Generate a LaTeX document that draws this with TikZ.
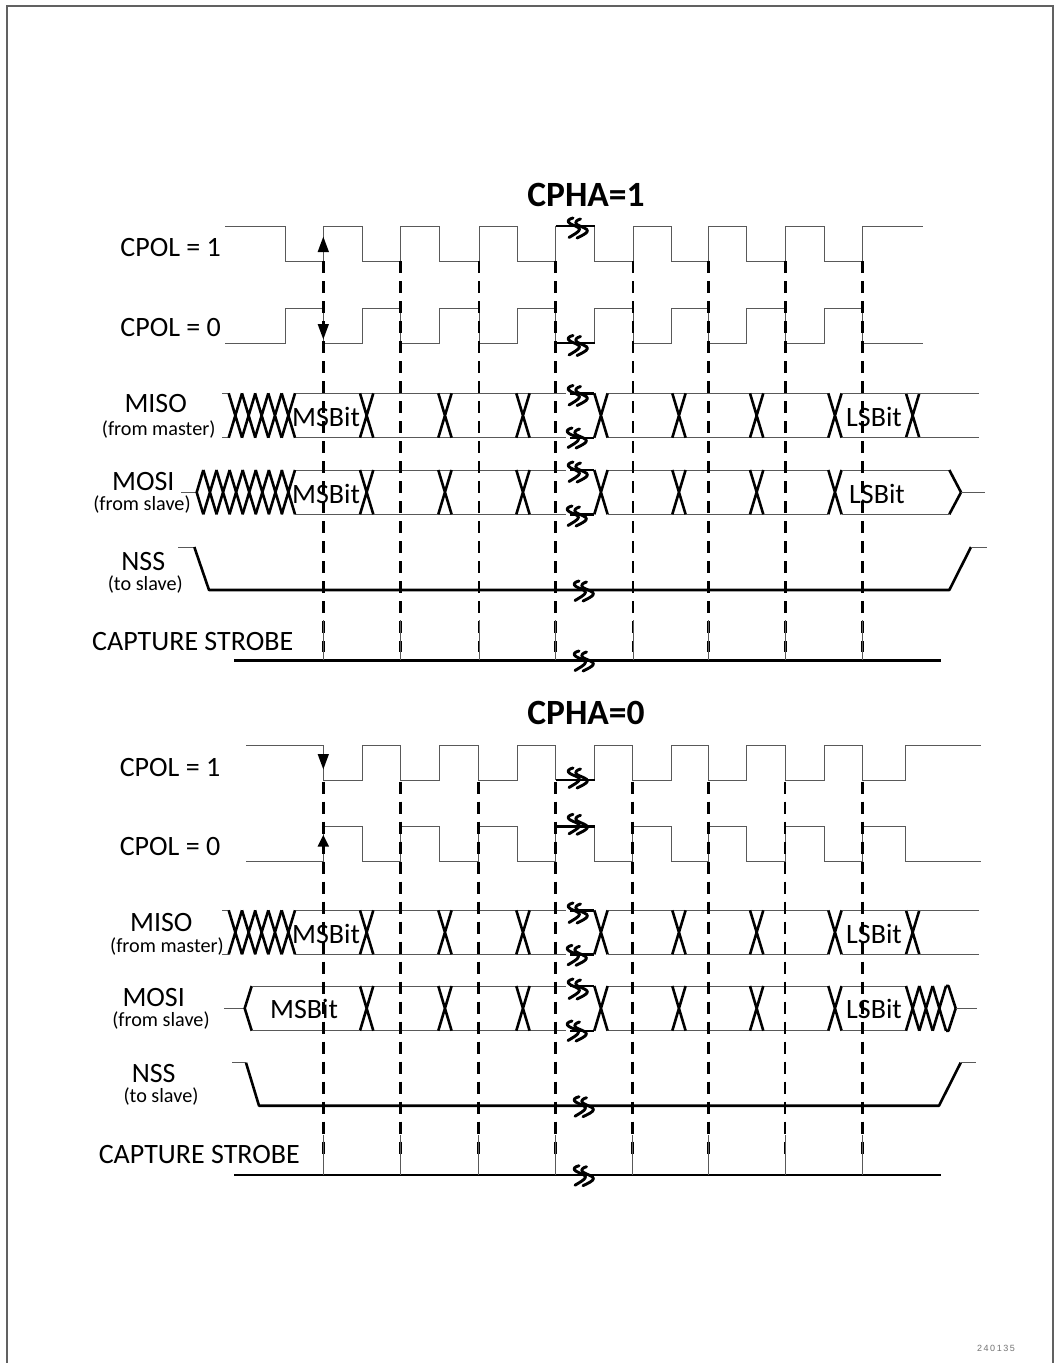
\documentclass[tikz,border=0pt]{standalone}
\usepackage{fontspec}
\setmainfont{Carlito}
\newfontfamily\numfont{Liberation Sans}
\tikzset{
  wave/.style={line width=1pt,draw=black!65},
  thickseg/.style={line width=2.4pt,draw=black},
  busx/.style={line width=2.6pt,draw=black},
  busend/.style={line width=2.6pt,draw=black,line join=round},
  heavy/.style={line width=2.6pt,draw=black,line join=round},
  edgedash/.style={line width=2.5pt,draw=black,dash pattern=on 12pt off 8pt},
  strobeline/.style={line width=1pt,draw=black!65},
  brk/.style={line width=2.9pt,draw=black,line cap=round,line join=round},
  lab/.style={inner sep=0pt,font=\fontsize{28}{28}\selectfont},
  sub/.style={inner sep=0pt,font=\fontsize{20.2}{20}\selectfont},
  ttl/.style={inner sep=0pt,font=\bfseries\fontsize{35.5}{36}\selectfont},
  tip/.style={fill=black,draw=none}
}
% crossing of a bus: left x, top y, bottom y
\newcommand\busX[3]{\draw[busx] (#1,#2)--(#1+13.3,#3) (#1+13.3,#2)--(#1,#3);}
% break mark: centre x, centre y
\newcommand\brkmark[2]{\begin{scope}[shift={(#1,#2)}]
 \draw[brk] (-4,-10) .. controls (-8,-9) and (-11,-7) .. (-7,-4.5) .. controls (-4,-2.5) and (3,-1) .. (2.5,1.5) .. controls (2,4) and (-4,7) .. (-8,9.5);
 \draw[brk] (3.5,-9) .. controls (0,-8) and (-3,-6) .. (0,-3.5) .. controls (3,-1.5) and (11,0.5) .. (10.5,3) .. controls (10,5.5) and (4,8) .. (0,10);
\end{scope}}
\begin{document}
\begin{tikzpicture}[x=1pt,y=-1pt]
\useasboundingbox (0,0) rectangle (1056,1363);
\fill[white] (0,0) rectangle (1056,1363);
% page frame
\draw[line width=1.3pt,draw=black!62] (7,1363)--(7,6)--(1053,6)--(1053,1363);

% ============ CPHA=1 ============
\node[ttl] (t1) at (586,195) {CPHA=1};
% clocks
\draw[wave] (225,226)-|(285.3,261)-|(323.3,226)-|(362.7,261)-|(400.7,226)-|(439.7,261)-|(479,226)-|(517.7,261)-|(555.7,226);
\draw[wave] (594.7,226)--(594.7,261)-|(633,226)-|(671.7,261)-|(708.7,226)-|(746.7,261)-|(785.3,226)-|(824.3,261)-|(862.7,226)--(922.7,226);
\draw[thickseg] (555.7,226)--(594.7,226);
\draw[wave] (225,343)-|(285.3,308)-|(323.3,343)-|(362.7,308)-|(400.7,343)-|(439.7,308)-|(479,343)-|(517.7,308)-|(555.7,343);
\draw[wave] (594.7,343)--(594.7,308)-|(633,343)-|(671.7,308)-|(708.7,343)-|(746.7,308)-|(785.3,343)-|(824.3,308)-|(862.7,343)--(922.7,343);
\draw[thickseg] (555.7,343)--(594.7,343);
% data
\foreach \t/\b in {393.3/437.7,470/514.3}{
 \draw[wave] (295,\t)--(566,\t) (295,\b)--(566,\b);
 \draw[wave] (607.7,\t)--(828.3,\t) (607.7,\b)--(828.3,\b);
 \draw[thickseg] (570,\t)--(594.3,\t) (570,\b)--(594.3,\b);
 \foreach \x in {360,438.3,516.3,594.3,672.3,750,828.3}{\busX{\x}{\t}{\b}}
}
\draw[wave] (222,393.3)--(228.7,393.3) (222,437.7)--(228.7,437.7);
\foreach \x in {228.7,242,255,268.3,281.7}{\busX{\x}{393.3}{437.7}}
\busX{906}{393.3}{437.7}
\draw[wave] (841.7,393.3)--(978.7,393.3) (841.7,437.7)--(978.7,437.7);
\draw[wave] (181,492.3)--(196.7,492.3);
\draw[busend] (203.3,470)--(196.7,492.3)--(203.3,514.3);
\foreach \x in {203.3,216.4,229.5,242.6,255.7,268.8,281.7}{\busX{\x}{470}{514.3}}
\draw[wave] (841.7,470)--(949.3,470) (841.7,514.3)--(949.3,514.3);
\draw[busend] (949.3,470)--(961,492.3)--(949.3,514.3);
\draw[wave] (961,492.3)--(985,492.3);
% NSS and strobe
\draw[wave] (178,547)--(194.3,547);
\draw[heavy] (194.3,547)--(209,590)--(949.3,590)--(971,547);
\draw[wave] (971,547)--(986.7,547);
\draw[heavy] (234.3,660.7)--(941,660.7);
% texts
\node[lab] (a1) at (170.7,248) {CPOL = 1};
\node[lab] (a2) at (170.7,328) {CPOL = 0};
\node[lab] (a3) at (155.7,404) {MISO};
\node[sub] (a4) at (158.7,430) {(from master)};
\node[lab] (a5) at (143.3,482) {MOSI};
\node[sub] (a6) at (142,505) {(from slave)};
\node[lab] (a7) at (143.3,562) {NSS};
\node[sub] (a8) at (145.3,585) {(to slave)};
\node[lab] (a9) at (192.7,641.7) {CAPTURE STROBE};
\node[lab] (a10) at (326,416.7) {MSBit};
\node[lab] (a11) at (326,494.3) {MSBit};
\node[lab] (a12) at (874,416.7) {LSBit};
\node[lab] (a13) at (877,494.3) {LSBit};
% capture edges
\foreach \x in {323.3,400.7,479,555.7,633,708.7,785.3,862.7}{
 \draw[edgedash] (\x,261)--(\x,652);
 \draw[strobeline] (\x,620)--(\x,660);
}
\draw[wave] (323.3,226)--(323.3,261);
\fill[tip] (323.3,236.7)--(329,252)--(317.6,252)--cycle;
\fill[tip] (323.3,339.3)--(329,324)--(317.6,324)--cycle;
% breaks
\foreach \x/\y in {577/228,577/345.5,577/395.5,576/438,577/472,576/516,583/591,583/661}{\brkmark{\x}{\y}}

% ============ CPHA=0 ============
\node[ttl] (t0) at (586,713) {CPHA=0};
\draw[wave] (246.3,745)-|(323.3,780)-|(362.3,745)-|(400.7,780)-|(439,745)-|(478.7,780)-|(517.3,745)-|(555.7,780);
\draw[wave] (594.7,780)--(594.7,745)-|(632.7,780)-|(671,745)-|(708.3,780)-|(746.7,745)-|(785,780)-|(824,745)-|(862.3,780)-|(905.7,745)--(981,745);
\draw[thickseg] (555.7,780)--(594.7,780);
\draw[wave] (246.3,861.3)-|(323.3,826.3)-|(362.3,861.3)-|(400.7,826.3)-|(439,861.3)-|(478.7,826.3)-|(517.3,861.3)-|(555.7,826.3);
\draw[wave] (594.7,826.3)--(594.7,861.3)-|(632.7,826.3)-|(671,861.3)-|(708.3,826.3)-|(746.7,861.3)-|(785,826.3)-|(824,861.3)-|(862.3,826.3)-|(905.7,861.3)--(981,861.3);
\draw[thickseg] (555.7,826.3)--(594.7,826.3);
\foreach \t/\b in {910.3/954.3,986/1030.7}{
 \draw[wave] (295,\t)--(566,\t) (295,\b)--(566,\b);
 \draw[wave] (607.7,\t)--(828.3,\t) (607.7,\b)--(828.3,\b);
 \draw[thickseg] (570,\t)--(594.3,\t) (570,\b)--(594.3,\b);
 \foreach \x in {360,438.3,516.3,594.3,672.3,750,828.3}{\busX{\x}{\t}{\b}}
}
\draw[wave] (222,910.3)--(228.7,910.3) (222,954.3)--(228.7,954.3);
\foreach \x in {228.7,242,255,268.3,281.7}{\busX{\x}{910.3}{954.3}}
\busX{906}{910.3}{954.3}
\draw[wave] (841.7,910.3)--(978.7,910.3) (841.7,954.3)--(978.7,954.3);
\draw[wave] (224,1008.3)--(244.7,1008.3);
\draw[busend] (251.7,986)--(244.7,1008.3)--(251.7,1030.7);
\draw[wave] (251.7,986)--(360,986) (251.7,1030.7)--(360,1030.7);
\draw[wave] (841.7,986)--(906,986) (841.7,1030.7)--(906,1030.7);
\foreach \x in {906,919.3,932.7}{\busX{\x}{986}{1030.7}}
\draw[busend] (946,986)--(948.5,986)--(955.7,1008.3)--(948.5,1030.7)--(946,1030.7);
\draw[wave] (955.7,1008.3)--(976.7,1008.3);
\draw[wave] (232.3,1062.7)--(246,1062.7);
\draw[heavy] (246,1062.7)--(259,1105.7)--(939,1105.7)--(960.7,1062.7);
\draw[wave] (960.7,1062.7)--(975.7,1062.7);
\draw[heavy] (234,1175)--(941,1175);
\node[lab] (b1) at (170,767.3) {CPOL = 1};
\node[lab] (b2) at (170,846) {CPOL = 0};
\node[lab] (b3) at (161.3,922) {MISO};
\node[sub] (b4) at (167,947) {(from master)};
\node[lab] (b5) at (153.7,997.3) {MOSI};
\node[sub] (b6) at (161,1020) {(from slave)};
\node[lab] (b7) at (153.7,1073) {NSS};
\node[sub] (b8) at (161,1096.7) {(to slave)};
\node[lab] (b9) at (199.3,1155) {CAPTURE STROBE};
\node[lab] (b10) at (326,933.7) {MSBit};
\node[lab] (b11) at (304,1009) {MSBit};
\node[lab] (b12) at (874,933.7) {LSBit};
\node[lab] (b13) at (874,1009) {LSBit};
\foreach \x in {323.3,400.7,478.7,555.7,632.7,708.3,785,862.3}{
 \draw[edgedash] (\x,781.5)--(\x,1156);
 \draw[strobeline] (\x,1135)--(\x,1175);
}
\draw[wave] (323.3,745)--(323.3,780);
\fill[tip] (323.3,769.3)--(329,754)--(317.6,754)--cycle;
\fill[tip] (323.3,835)--(329,846.5)--(317.6,846.5)--cycle;
\foreach \x/\y in {577/778,577/824.3,577/913,576/955.3,577/989,576/1031,583/1106.7,583/1175.7}{\brkmark{\x}{\y}}

\node[inner sep=0pt,text=black!55] (code) at (996,1348) {\numfont\fontsize{9}{9}\selectfont 2\,4\,0\,1\,3\,5};
\end{tikzpicture}
\end{document}
